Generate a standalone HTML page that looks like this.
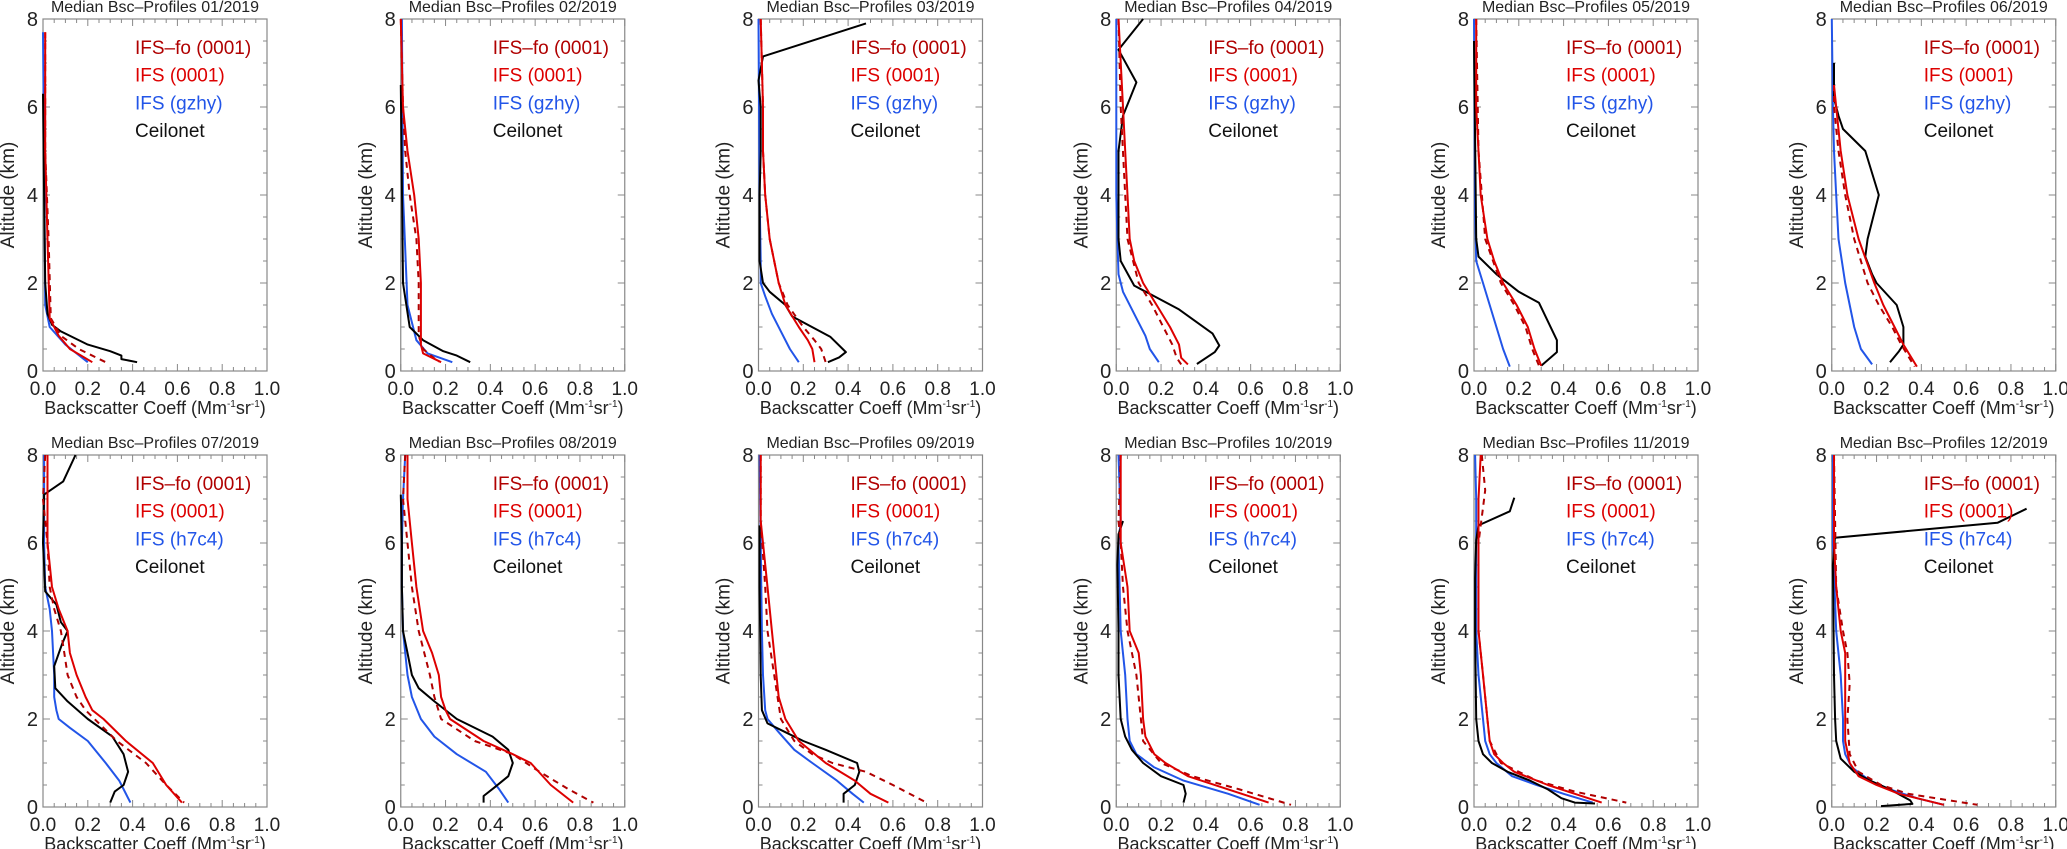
<!DOCTYPE html>
<html><head><meta charset="utf-8">
<style>
html,body{margin:0;padding:0;background:#fff;}
svg{display:block;}
text{font-family:"Liberation Sans",Arial,sans-serif;}
</style></head>
<body>
<svg id="fig" width="2067" height="849" viewBox="0 0 2067 849" xmlns="http://www.w3.org/2000/svg"></svg>
<script>
const months = ["01","02","03","04","05","06","07","08","09","10","11","12"];
const xTicks = ["0.0","0.2","0.4","0.6","0.8","1.0"];
const yTicks = ["0","2","4","6","8"];
const blueLabels = ["IFS (gzhy)","IFS (h7c4)"];
// each profile: array of [altitude km, backscatter]
const ceilonet = [
 [[6.3,0.0],[4,0.005],[2,0.01],[1.3,0.02],[1.05,0.04],[0.9,0.08],[0.6,0.2],[0.45,0.3],[0.35,0.35],[0.27,0.35],[0.2,0.42]],
 [[6.5,0.0],[2,0.01],[1,0.04],[0.7,0.1],[0.45,0.19],[0.35,0.25],[0.2,0.31]],
 [[7.9,0.48],[7.15,0.02],[6.6,0.0],[6,0.01],[5,0.01],[4,0.005],[2.5,0.005],[2,0.02],[1.8,0.05],[1.5,0.12],[1.24,0.15],[0.78,0.32],[0.43,0.39],[0.31,0.36],[0.2,0.31]],
 [[8,0.12],[7.3,0.01],[6.56,0.09],[5.8,0.03],[5,0.01],[3,0.01],[2.5,0.02],[1.94,0.08],[1.4,0.28],[0.85,0.43],[0.58,0.46],[0.43,0.44],[0.16,0.36]],
 [[7.5,0.0],[3,0.01],[2.6,0.02],[2.2,0.1],[1.8,0.2],[1.55,0.29],[0.7,0.37],[0.43,0.37],[0.12,0.3]],
 [[7,0.01],[6.2,0.01],[5.8,0.03],[5.5,0.05],[5,0.15],[4,0.21],[3.4,0.18],[3,0.16],[2.6,0.15],[2.2,0.18],[2,0.2],[1.5,0.29],[1.0,0.32],[0.6,0.32],[0.45,0.3],[0.2,0.26]],
 [[8,0.145],[7.4,0.09],[7.1,0.005],[6,0.0],[5.5,0.005],[4.9,0.01],[4.6,0.06],[4.2,0.08],[4.0,0.11],[3.7,0.085],[3.2,0.05],[2.7,0.055],[2.4,0.11],[2.0,0.2],[1.6,0.31],[1.2,0.36],[0.8,0.38],[0.5,0.36],[0.35,0.32],[0.1,0.3]],
 [[7.1,0.0],[6,0.005],[5,0.005],[4,0.01],[3.5,0.03],[3,0.05],[2.7,0.08],[2.4,0.15],[2.0,0.25],[1.6,0.41],[1.3,0.48],[1.0,0.5],[0.7,0.48],[0.45,0.42],[0.25,0.37],[0.1,0.37]],
 [[6.4,0.005],[5,0.005],[3,0.01],[2.2,0.015],[1.9,0.04],[1.7,0.12],[1.5,0.2],[1.3,0.3],[1.0,0.44],[0.8,0.45],[0.5,0.43],[0.3,0.38],[0.1,0.38]],
 [[6.5,0.03],[6.2,0.01],[5.5,0.005],[4,0.01],[3,0.01],[2,0.02],[1.6,0.04],[1.3,0.07],[1.0,0.12],[0.7,0.2],[0.5,0.3],[0.3,0.31],[0.1,0.3]],
 [[7.03,0.18],[6.72,0.16],[6.4,0.02],[6.07,0.01],[5.2,0.005],[4,0.005],[2,0.01],[1.5,0.02],[1.2,0.04],[1.0,0.08],[0.8,0.15],[0.6,0.25],[0.4,0.33],[0.2,0.39],[0.1,0.45],[0.08,0.54]],
 [[6.78,0.87],[6.46,0.74],[6.12,0.014],[5.5,0.005],[3,0.01],[2,0.015],[1.5,0.02],[1.1,0.04],[0.8,0.1],[0.6,0.17],[0.4,0.26],[0.15,0.35],[0.07,0.36],[0.02,0.22]]
];
const ifsSolid = [
 [[7.7,0.01],[5,0.01],[3,0.02],[1.2,0.03],[0.8,0.07],[0.5,0.12],[0.2,0.22]],
 [[8,0.0],[6,0.01],[5,0.03],[4,0.06],[3,0.08],[2,0.09],[1,0.09],[0.6,0.09],[0.4,0.1],[0.2,0.18]],
 [[8,0.01],[6,0.02],[5,0.02],[4,0.03],[3,0.05],[2,0.09],[1.5,0.12],[1.0,0.18],[0.7,0.22],[0.5,0.24],[0.2,0.25]],
 [[8,0.01],[6,0.03],[5,0.04],[4,0.05],[3,0.06],[2.5,0.08],[2,0.12],[1.5,0.18],[1.0,0.24],[0.6,0.28],[0.3,0.29],[0.15,0.32]],
 [[8,0.01],[6,0.01],[5,0.02],[4,0.03],[3,0.06],[2.5,0.09],[2,0.13],[1.5,0.19],[1.0,0.24],[0.5,0.27],[0.12,0.3]],
 [[6.5,0.01],[6,0.02],[5,0.04],[4,0.07],[3,0.12],[2,0.19],[1.5,0.23],[1,0.28],[0.6,0.32],[0.1,0.38]],
 [[8,0.02],[7,0.02],[6,0.02],[5,0.04],[4.5,0.07],[4,0.11],[3.5,0.12],[3,0.15],[2.5,0.19],[2.2,0.22],[2,0.27],[1.5,0.37],[1.0,0.49],[0.5,0.55],[0.1,0.62]],
 [[8,0.03],[7,0.03],[6,0.05],[5,0.07],[4,0.1],[3.5,0.14],[3,0.17],[2.5,0.18],[2.2,0.2],[2,0.22],[1.5,0.37],[1.2,0.5],[1.0,0.58],[0.5,0.67],[0.1,0.77]],
 [[8,0.01],[6.5,0.01],[6,0.02],[5,0.04],[4,0.06],[3,0.08],[2.5,0.09],[2,0.12],[1.5,0.18],[1.0,0.3],[0.6,0.43],[0.3,0.5],[0.1,0.58]],
 [[8,0.02],[6,0.02],[5,0.05],[4,0.06],[3.5,0.1],[3,0.11],[2,0.12],[1.6,0.13],[1.2,0.17],[1.0,0.22],[0.7,0.32],[0.4,0.5],[0.1,0.68]],
 [[8,0.03],[7,0.02],[6,0.02],[5,0.02],[4,0.02],[3,0.04],[2,0.06],[1.5,0.07],[1.2,0.09],[1.0,0.13],[0.8,0.18],[0.5,0.33],[0.3,0.45],[0.1,0.57]],
 [[8,0.01],[6,0.01],[5,0.02],[4,0.04],[3.5,0.06],[3,0.06],[2,0.06],[1.5,0.06],[1.0,0.08],[0.7,0.12],[0.5,0.2],[0.3,0.3],[0.05,0.5]]
];
const ifsFo = [
 [[7.7,0.01],[5,0.01],[3,0.025],[1.2,0.035],[0.8,0.08],[0.5,0.16],[0.2,0.28]],
 [[8,0.0],[6,0.01],[5,0.02],[4,0.04],[3,0.07],[2,0.08],[1.2,0.08],[0.8,0.08],[0.5,0.1],[0.2,0.17]],
 [[8,0.01],[6,0.02],[5,0.02],[4,0.03],[3,0.05],[2,0.09],[1.5,0.13],[1.0,0.2],[0.7,0.25],[0.5,0.28],[0.2,0.3]],
 [[8,0.01],[6,0.02],[4,0.04],[3,0.05],[2,0.1],[1.5,0.16],[1,0.21],[0.6,0.25],[0.3,0.27],[0.15,0.29]],
 [[8,0.01],[5,0.02],[3,0.05],[2,0.12],[1.5,0.18],[1.0,0.23],[0.5,0.26],[0.12,0.29]],
 [[6.5,0.01],[6,0.01],[5,0.03],[4,0.06],[3,0.1],[2,0.16],[1.5,0.21],[1,0.27],[0.6,0.31],[0.1,0.37]],
 [[8,0.01],[7,0.0],[6,0.02],[5,0.03],[4.5,0.05],[4,0.08],[3.5,0.095],[3,0.11],[2.5,0.15],[2.2,0.19],[2,0.23],[1.5,0.33],[1.0,0.46],[0.5,0.55],[0.1,0.63]],
 [[8,0.02],[7,0.01],[6,0.03],[5,0.05],[4,0.08],[3,0.13],[2.5,0.15],[2,0.18],[1.5,0.33],[1.2,0.5],[0.8,0.62],[0.4,0.75],[0.1,0.86]],
 [[8,0.01],[6.5,0.01],[5,0.03],[4,0.04],[3,0.07],[2,0.1],[1.5,0.16],[1.2,0.24],[1.0,0.33],[0.8,0.48],[0.5,0.6],[0.1,0.75]],
 [[8,0.02],[6.5,0.01],[6,0.02],[5,0.03],[4,0.05],[3,0.09],[2,0.11],[1.5,0.12],[1.0,0.2],[0.7,0.34],[0.4,0.55],[0.05,0.78]],
 [[8,0.035],[7.2,0.05],[6.8,0.04],[6.4,0.03],[6,0.02],[5,0.02],[4,0.02],[3,0.04],[2,0.06],[1.5,0.07],[1.0,0.12],[0.6,0.28],[0.35,0.45],[0.1,0.68]],
 [[8,0.01],[5,0.02],[4,0.05],[3.5,0.07],[2.8,0.08],[2,0.07],[1.2,0.08],[0.8,0.12],[0.5,0.22],[0.3,0.34],[0.05,0.65]]
];
const ifsBlue = [
 [[7.7,0.0],[5,0.005],[1.5,0.01],[1.0,0.03],[0.6,0.1],[0.2,0.2]],
 [[8,0.005],[4,0.01],[1.5,0.03],[0.7,0.07],[0.4,0.12],[0.2,0.23]],
 [[8,0.0],[4,0.005],[2.5,0.01],[2,0.01],[1.7,0.03],[1.3,0.06],[0.9,0.1],[0.5,0.14],[0.2,0.18]],
 [[8,0.0],[4,0.0],[3,0.005],[2.2,0.01],[1.8,0.03],[1.2,0.09],[0.8,0.13],[0.5,0.15],[0.2,0.19]],
 [[8,0.0],[3.5,0.005],[2.5,0.01],[2,0.04],[1.5,0.07],[1,0.1],[0.5,0.13],[0.1,0.16]],
 [[8,0.0],[6,0.005],[5,0.01],[4,0.02],[3,0.03],[2,0.06],[1.5,0.08],[1,0.1],[0.5,0.13],[0.15,0.18]],
 [[8,0.005],[6,0.005],[5,0.01],[4.5,0.03],[4,0.04],[3,0.05],[2.5,0.05],[2.2,0.06],[2,0.07],[1.8,0.12],[1.5,0.2],[1.0,0.28],[0.6,0.34],[0.1,0.39]],
 [[8,0.02],[7,0.01],[6,0.005],[5,0.005],[4,0.01],[3,0.03],[2.5,0.05],[2,0.09],[1.6,0.15],[1.2,0.25],[0.8,0.38],[0.4,0.44],[0.1,0.48]],
 [[8,0.005],[6,0.01],[4,0.015],[3,0.02],[2.2,0.03],[2,0.04],[1.7,0.09],[1.3,0.16],[1.0,0.24],[0.6,0.35],[0.3,0.42],[0.1,0.47]],
 [[8,0.01],[6.5,0.02],[6,0.01],[4,0.02],[3,0.04],[2,0.05],[1.5,0.06],[1.2,0.09],[0.9,0.17],[0.6,0.3],[0.3,0.5],[0.05,0.64]],
 [[8,0.005],[7,0.01],[6,0.01],[4,0.01],[3,0.02],[2,0.04],[1.5,0.05],[1.2,0.07],[1.0,0.1],[0.7,0.17],[0.5,0.28],[0.3,0.4],[0.1,0.53]],
 [[8,0.005],[6,0.005],[4,0.02],[3,0.04],[2,0.05],[1.5,0.05],[1.2,0.06],[0.9,0.09],[0.6,0.17],[0.4,0.26],[0.2,0.38],[0.05,0.5]]
];

const NS = "http://www.w3.org/2000/svg";
const svg = document.getElementById("fig");
const PW = 224, PH = 352, XMAX = 1.0, YMAX = 8;
function mk(tag, attrs, parent){
  const e = document.createElementNS(NS, tag);
  for (const k in attrs) e.setAttribute(k, attrs[k]);
  (parent||svg).appendChild(e);
  return e;
}
for (let p = 0; p < 12; p++){
  const col = p % 6, row = Math.floor(p / 6);
  const x0 = 43 + col * 357.75, y0 = row ? 455 : 19;
  const sx = v => x0 + v / XMAX * PW;
  const sy = a => y0 + PH - a / YMAX * PH;
  const g = mk("g", {});
  
  
  const title = mk("text", {x: x0 + PW/2, y: y0 - 7, "text-anchor":"middle", "font-size":"16", fill:"#222"}, g);
  title.textContent = "Median Bsc\u2013Profiles " + months[p] + "/2019";
  
  
  // ticks
  for (let i = 0; i <= 20; i++){
    const x = sx(i * 0.05), L = (i % 4 === 0) ? 7 : 4;
    mk("line", {x1:x, x2:x, y1:y0+PH, y2:y0+PH-L, stroke:"#888", "stroke-width":1}, g);
    mk("line", {x1:x, x2:x, y1:y0, y2:y0+L, stroke:"#888", "stroke-width":1}, g);
  }
  for (let i = 0; i <= 16; i++){
    const y = sy(i * 0.5), L = (i % 4 === 0) ? 7 : 4;
    mk("line", {x1:x0, x2:x0+L, y1:y, y2:y, stroke:"#888", "stroke-width":1}, g);
    mk("line", {x1:x0+PW, x2:x0+PW-L, y1:y, y2:y, stroke:"#888", "stroke-width":1}, g);
  }
  const box = mk("rect", {x:x0, y:y0, width:PW, height:PH, fill:"none", stroke:"#888", "stroke-width":1.2}, g);
  
  
  xTicks.forEach(t => {
    const tx = mk("text", {x: sx(parseFloat(t)), y: y0+PH+24, "text-anchor":"middle", "font-size":"19", fill:"#222"}, g);
    tx.textContent = t;
    
    
  });
  yTicks.forEach(t => {
    const ty = mk("text", {x: x0-5, y: sy(parseFloat(t))+7, "text-anchor":"end", "font-size":"20", fill:"#222"}, g);
    ty.textContent = t;
    
    
  });
  const xt = mk("text", {x: x0+PW/2, y: y0+PH+43, "text-anchor":"middle", "font-size":"18", fill:"#222"}, g);
  xt.innerHTML = 'Backscatter Coeff (Mm<tspan font-size="10" dy="-7">-1</tspan><tspan dy="7">sr</tspan><tspan font-size="10" dy="-7">-1</tspan><tspan dy="7">)</tspan>';
  
  
  const yt = mk("text", {x: 0, y: 0, "text-anchor":"middle", "font-size":"19", fill:"#222", transform:`translate(${x0-29},${y0+PH/2}) rotate(-90)`}, g);
  yt.textContent = "Altitude (km)";
  
  
  // series
  const series = [
    {d: ifsBlue[p], c:"#2255e8", dash:null, n:"series-ifs-blue"},
    {d: ceilonet[p], c:"#000", dash:null, n:"series-ceilonet"},
    {d: ifsFo[p], c:"#b00000", dash:"6,5", n:"series-ifs-fo"},
    {d: ifsSolid[p], c:"#dd0000", dash:null, n:"series-ifs"}
  ];
  series.forEach(s => {
    const pts = s.d.map(q => sx(q[1]).toFixed(1) + "," + sy(q[0]).toFixed(1)).join(" ");
    const attrs = {points: pts, fill:"none", stroke:s.c, "stroke-width":2, "stroke-linejoin":"round"};
    if (s.dash) attrs["stroke-dasharray"] = s.dash;
    const pl = mk("polyline", attrs, g);
    
    
  });
  const leg = [["IFS\u2013fo (0001)","#b00000"],["IFS (0001)","#dd0000"],[blueLabels[row],"#2255e8"],["Ceilonet","#111"]];
  leg.forEach((l, i) => {
    const lt = mk("text", {x: x0+92, y: y0+35+i*27.7, "font-size":"19", fill:l[1]}, g);
    lt.textContent = l[0];
    
    
  });
}
</script>
</body></html>
